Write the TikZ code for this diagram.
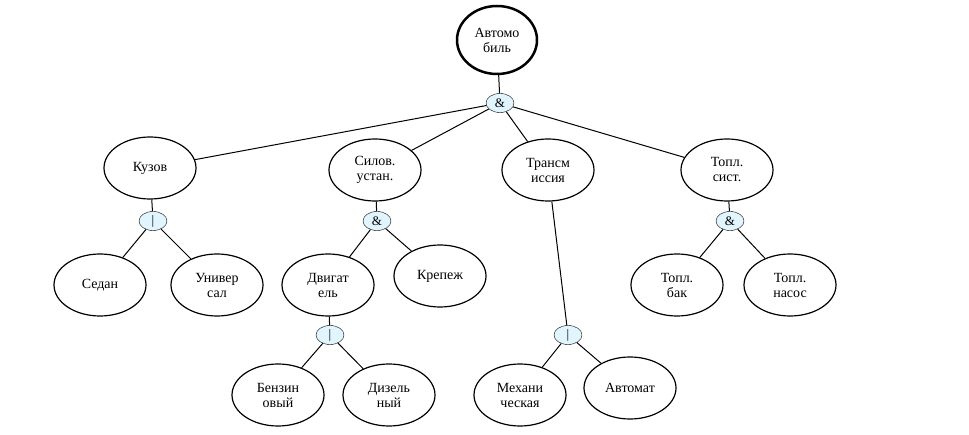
\documentclass[tikz,border=0pt]{standalone}
\usepackage{fontspec}
\setmainfont{Liberation Serif}
\usetikzlibrary{shapes.geometric}
\begin{document}
\begin{tikzpicture}[x=1pt,y=-1pt,
  n/.style={ellipse,draw,line width=1.2pt,minimum width=92pt,minimum height=62pt,inner sep=0pt,align=center,font=\fontsize{14}{15}\selectfont},
  op/.style={ellipse,draw,fill=cyan!12,minimum width=28pt,minimum height=19pt,inner sep=0pt,font=\fontsize{13}{13}\selectfont},
  e/.style={line width=1pt}]
\useasboundingbox (0,0) rectangle (969,435);
\node[n,line width=2.5pt,minimum width=80pt,minimum height=68pt] (root) at (497,40) {Автомо\\биль};
\node[op] (a0) at (500,103) {\&};
\node[n] (kuz) at (150,168) {Кузов};
\node[n] (sil) at (375,170) {Силов.\\устан.};
\node[n] (tr) at (548,170) {Трансм\\иссия};
\node[n] (top) at (727,170) {Топл.\\сист.};
\draw[e] (root) -- (a0);
\foreach \c in {kuz,sil,tr,top} \draw[e] (a0) -- (\c);
\node[op] (o1) at (153,221) {|};
\node[n] (sed) at (100,285) {Седан};
\node[n] (uni) at (217,285) {Универ\\сал};
\draw[e] (kuz) -- (o1); \draw[e] (o1) -- (sed); \draw[e] (o1) -- (uni);
\node[op] (a2) at (377,221) {\&};
\node[n] (dv) at (328,285) {Двигат\\ель};
\node[n] (kr) at (440,276) {Крепеж};
\draw[e] (sil) -- (a2); \draw[e] (a2) -- (dv); \draw[e] (a2) -- (kr);
\node[op] (o3) at (330,335) {|};
\node[n] (benz) at (278,395) {Бензин\\овый};
\node[n] (diz) at (389,395) {Дизель\\ный};
\draw[e] (dv) -- (o3); \draw[e] (o3) -- (benz); \draw[e] (o3) -- (diz);
\node[op] (o4) at (568,335) {|};
\node[n] (meh) at (520,395) {Механи\\ческая};
\node[n] (avt) at (630,388) {Автомат};
\draw[e] (tr) -- (o4); \draw[e] (o4) -- (meh); \draw[e] (o4) -- (avt);
\node[op] (a5) at (730,221) {\&};
\node[n] (bak) at (677,285) {Топл.\\бак};
\node[n] (nas) at (790,285) {Топл.\\насос};
\draw[e] (top) -- (a5); \draw[e] (a5) -- (bak); \draw[e] (a5) -- (nas);
\end{tikzpicture}
\end{document}
